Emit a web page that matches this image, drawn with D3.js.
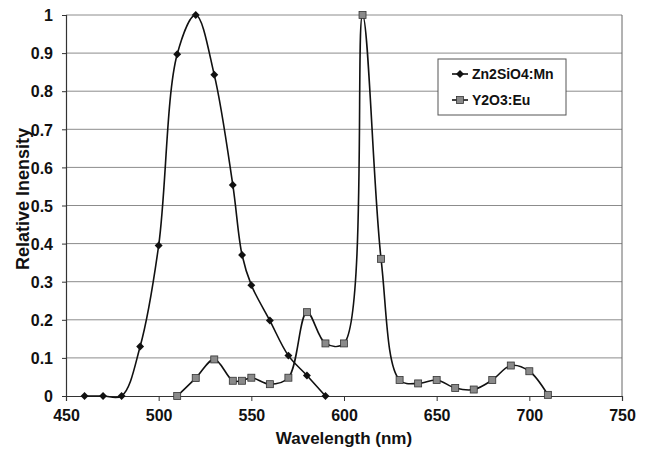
<!DOCTYPE html>
<html>
<head>
<meta charset="utf-8">
<script src="https://cdn.jsdelivr.net/npm/d3@7"></script>
<style>
  body { margin: 0; background: #fff; }
  text { font-family: "Liberation Sans", Arial, sans-serif; font-weight: bold; }
</style>
</head>
<body>
<svg id="chart"></svg>
<script>
// values
const znWavelength = [460, 470, 480, 490, 500, 510, 520, 530, 540, 545, 550, 560, 570, 580, 590]
const znIntensity = [0, 0, 0, 0.13, 0.395, 0.897, 1.0, 0.843, 0.554, 0.37, 0.291, 0.198, 0.106, 0.054, 0]

const yWavelength = [510, 520, 530, 540, 545, 550, 560, 570, 580, 590, 600, 610, 620, 630, 640, 650, 660, 670, 680, 690, 700, 710]
const yIntensity = [0, 0.047, 0.096, 0.04, 0.04, 0.048, 0.031, 0.048, 0.22, 0.138, 0.138, 1.0, 0.36, 0.042, 0.033, 0.042, 0.021, 0.017, 0.042, 0.08, 0.065, 0.003]

const xTicks = [450, 500, 550, 600, 650, 700, 750]
const yTicks = [0, 0.1, 0.2, 0.3, 0.4, 0.5, 0.6, 0.7, 0.8, 0.9, 1]
const seriesNames = ["Zn2SiO4:Mn", "Y2O3:Eu"]

const svgWidth = 646, svgHeight = 453
const margin = { top: 15, right: 24, bottom: 57, left: 66 }
const width = svgWidth - margin.left - margin.right
const height = svgHeight - margin.top - margin.bottom

const svg = d3.select("#chart")
  .attr("width", svgWidth)
  .attr("height", svgHeight)

const g = svg.append("g")
  .attr("transform", "translate(" + margin.left + "," + margin.top + ")")

const x = d3.scaleLinear().domain([450, 750]).range([0, width])
const y = d3.scaleLinear().domain([0, 1]).range([height, 0])

// gridlines
g.append("g")
  .selectAll("line")
  .data(yTicks.slice(1))
  .join("line")
  .attr("x1", 0).attr("x2", width)
  .attr("y1", d => y(d)).attr("y2", d => y(d))
  .attr("stroke", "#8c8c8c")
  .attr("stroke-width", 1)

// right border of plot area
g.append("line")
  .attr("x1", width).attr("x2", width)
  .attr("y1", 0).attr("y2", height)
  .attr("stroke", "#666")

const xAxis = g.append("g")
  .attr("transform", "translate(0," + height + ")")
  .call(d3.axisBottom(x).tickValues(xTicks).tickSize(5).tickPadding(9).tickFormat(d3.format("d")))
const yAxis = g.append("g")
  .call(d3.axisLeft(y).tickValues(yTicks).tickSize(4).tickPadding(9).tickFormat(d => d === 0 ? "0" : d === 1 ? "1" : d3.format(".1f")(d)))

for (const ax of [xAxis, yAxis]) {
  ax.select(".domain").attr("stroke", "#333").attr("stroke-width", 1.2)
  ax.selectAll(".tick line").attr("stroke", "#333")
  ax.selectAll(".tick text")
    .attr("fill", "#111")
    .style("font-size", "16px")
    .style("font-family", "Liberation Sans, Arial, sans-serif")
    .style("font-weight", "bold")
}
yAxis.selectAll(".tick text").attr("dy", "0.36em")

// axis titles
svg.append("text")
  .attr("x", margin.left + width / 2)
  .attr("y", 444)
  .attr("text-anchor", "middle")
  .attr("fill", "#111")
  .style("font-size", "17px")
  .text("Wavelength (nm)")

svg.append("text")
  .attr("transform", "translate(29,199) rotate(-90)")
  .attr("text-anchor", "middle")
  .attr("fill", "#111")
  .style("font-size", "18px")
  .text("Relative Inensity")

const zn = znWavelength.map((w, i) => ({ w: w, v: znIntensity[i] }))
const yo = yWavelength.map((w, i) => ({ w: w, v: yIntensity[i] }))

const line = d3.line()
  .x(d => x(d.w))
  .y(d => y(d.v))
  .curve(d3.curveCatmullRom.alpha(0.5))

g.append("path")
  .datum(zn)
  .attr("fill", "none")
  .attr("stroke", "#111")
  .attr("stroke-width", 1.6)
  .attr("d", line)

g.append("path")
  .datum(yo)
  .attr("fill", "none")
  .attr("stroke", "#111")
  .attr("stroke-width", 1.6)
  .attr("d", line)

const diamond = d3.symbol().type(d3.symbolDiamond2).size(40)

g.append("g")
  .selectAll("path")
  .data(zn)
  .join("path")
  .attr("transform", d => "translate(" + x(d.w) + "," + y(d.v) + ")")
  .attr("d", diamond)
  .attr("fill", "#111")

g.append("g")
  .selectAll("rect")
  .data(yo)
  .join("rect")
  .attr("x", d => x(d.w) - 3.5)
  .attr("y", d => y(d.v) - 3.5)
  .attr("width", 7).attr("height", 7)
  .attr("fill", "#8a8a8a")
  .attr("stroke", "#333")
  .attr("stroke-width", 0.8)

// legend
const legend = svg.append("g").attr("transform", "translate(438,59)")
legend.append("rect")
  .attr("width", 128).attr("height", 56)
  .attr("fill", "#fff")
  .attr("stroke", "#555")

const rowY = [15, 41]
seriesNames.forEach((name, i) => {
  const row = legend.append("g").attr("transform", "translate(0," + rowY[i] + ")")
  row.append("line")
    .attr("x1", 14).attr("x2", 30)
    .attr("stroke", "#111").attr("stroke-width", 1.6)
  if (i === 0) {
    row.append("path").attr("transform", "translate(22,0)").attr("d", diamond).attr("fill", "#111")
  } else {
    row.append("rect").attr("x", 18.5).attr("y", -3.5).attr("width", 7).attr("height", 7)
      .attr("fill", "#8a8a8a").attr("stroke", "#333").attr("stroke-width", 0.8)
  }
  row.append("text")
    .attr("x", 34)
    .attr("dy", "0.36em")
    .attr("fill", "#111")
    .style("font-size", "14px")
    .text(name)
})
</script>
</body>
</html>
